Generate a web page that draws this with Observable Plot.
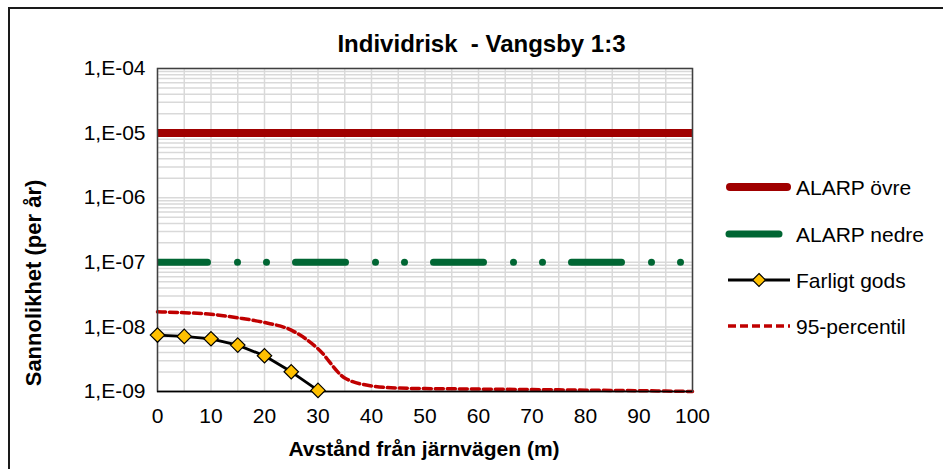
<!DOCTYPE html>
<html>
<head>
<meta charset="utf-8">
<script src="https://cdn.jsdelivr.net/npm/d3@7"></script>
<script src="https://cdn.jsdelivr.net/npm/@observablehq/plot@0.6"></script>
<style>
  html, body { margin: 0; padding: 0; background: #fff; }
  #wrap { position: relative; width: 943px; height: 469px; overflow: hidden; font-family: "Liberation Sans", Arial, sans-serif; }
  #border { position: absolute; left: 8px; top: 7px; width: 1000px; height: 600px; border: 2px solid #1a1a1a; box-sizing: border-box; }
  #chart { position: absolute; left: 0; top: 0; }
  .lbl { position: absolute; font-weight: bold; color: #000; white-space: nowrap; line-height: 1; }
  #overlay { position: absolute; left: 0; top: 0; }
</style>
</head>
<body>
<div id="wrap">
  <div id="border"></div>
  <div id="chart"></div>
  <div class="lbl" id="title" style="left:0; width:963px; text-align:center; top:32px; font-size:24px;">Individrisk&nbsp; - Vangsby 1:3</div>
  <div class="lbl" id="xlabel" style="left:124px; width:600px; text-align:center; top:438px; font-size:21px;">Avstånd från järnvägen (m)</div>
  <div class="lbl" id="ylabel" style="left:34px; top:283px; font-size:22px; transform: translate(-50%,-50%) rotate(-90deg);">Sannolikhet (per år)</div>
</div>
<script>
// ---- data ----
const xTicks = [0, 10, 20, 30, 40, 50, 60, 70, 80, 90, 100];
const xGrid = [0, 5, 10, 15, 20, 25, 30, 35, 40, 45, 50, 55, 60, 65, 70, 75, 80, 85, 90, 95, 100];
const yTicks = [1e-9, 1e-8, 1e-7, 1e-6, 1e-5, 1e-4];
const yTickLabels = ["1,E-09", "1,E-08", "1,E-07", "1,E-06", "1,E-05", "1,E-04"];

const limitX = [0, 100];
const alarpOvre = [1e-5, 1e-5];
const alarpNedre = [1e-7, 1e-7];

const farligtX = [0, 5, 10, 15, 20, 25, 30];
const farligtGods = [7.47e-9, 7.13e-9, 6.55e-9, 5.23e-9, 3.57e-9, 2.02e-9, 1.04e-9];

const percX = [0, 5, 10, 15, 20, 25, 30, 35, 40, 45, 50, 55, 60, 65, 70, 75, 80, 85, 90, 95, 100];
const percentil95 = [1.71e-8, 1.66e-8, 1.57e-8, 1.38e-8, 1.17e-8, 8.9e-9, 4.6e-9, 1.62e-9, 1.22e-9, 1.13e-9,
                     1.11e-9, 1.10e-9, 1.09e-9, 1.08e-9, 1.07e-9, 1.06e-9, 1.05e-9, 1.04e-9, 1.03e-9, 1.015e-9, 1.0e-9];

// ---- tables ----
const ovreData = limitX.map((x, i) => ({x, y: alarpOvre[i]}));
const nedreData = limitX.map((x, i) => ({x, y: alarpNedre[i]}));
const farligtData = farligtX.map((x, i) => ({x, y: farligtGods[i]}));
const percData = percX.map((x, i) => ({x, y: percentil95[i]}));
const yMinor = yTicks.slice(0, -1).flatMap(d => [1,2,3,4,5,6,7,8,9].map(k => k * d)).concat([1e-4]);
const yLabelMap = new Map(yTicks.map((t, i) => [t, yTickLabels[i]]));

const RED = "#a00000";
const GREEN = "#006633";
const DRED = "#c00000";
const GOLD = "#ffc000";

const chart = Plot.plot({
  width: 943,
  height: 469,
  marginLeft: 157,
  marginRight: 251,
  marginTop: 68,
  marginBottom: 78,
  style: { fontFamily: "'Liberation Sans', Arial, sans-serif", fontSize: "21px", color: "#000", background: "transparent" },
  x: { domain: [0, 100] },
  y: { type: "log", domain: [1e-9, 1e-4] },
  marks: [
    Plot.gridX({ ticks: xGrid, stroke: "#d9d9d9", strokeOpacity: 1, strokeWidth: 1.5 }),
    Plot.gridY({ ticks: yMinor, stroke: "#d9d9d9", strokeOpacity: 1, strokeWidth: 1.5 }),
    Plot.axisX({ ticks: xTicks, tickSize: 0, tickPadding: 17, label: null, fontSize: 21 }),
    Plot.axisY({ ticks: yTicks, tickSize: 0, tickPadding: 12, label: null, fontSize: 21, tickFormat: d => yLabelMap.get(d) }),
    Plot.line(ovreData, { x: "x", y: "y", stroke: RED, strokeWidth: 8, clip: "frame" }),
    Plot.line(nedreData, { x: "x", y: "y", stroke: GREEN, strokeWidth: 7, strokeLinecap: "round", strokeDasharray: "50,30,0,29,0,29", clip: "frame" }),
    Plot.line(percData, { x: "x", y: "y", stroke: DRED, strokeWidth: 3.5, strokeDasharray: "8,4", curve: "monotone-x" }),
    Plot.frame({ stroke: "#404040", strokeWidth: 1.5 }),
    Plot.ruleY([1e-9], { stroke: "#000", strokeWidth: 1.5 }),
    Plot.line(farligtData, { x: "x", y: "y", stroke: "#000", strokeWidth: 2.8 }),
    Plot.dot(farligtData, { x: "x", y: "y", symbol: "diamond2", r: 6.5, fill: GOLD, stroke: "#000", strokeWidth: 1.2 })
  ]
});
document.getElementById("chart").appendChild(chart);

// ---- legend ----
const ns = "http://www.w3.org/2000/svg";
const leg = document.createElementNS(ns, "svg");
leg.setAttribute("id", "overlay");
leg.setAttribute("width", 943);
leg.setAttribute("height", 469);
leg.style.fontFamily = "'Liberation Sans', Arial, sans-serif";
leg.style.fontSize = "21px";
const items = [
  { label: "ALARP övre", y: 187, stroke: RED, w: 8, cap: "round", x1: 730, x2: 787 },
  { label: "ALARP nedre", y: 234, stroke: GREEN, w: 7, cap: "round", x1: 729, x2: 779 },
  { label: "Farligt gods", y: 280, stroke: "#000", w: 2.8, cap: "butt", x1: 728, x2: 790, marker: true },
  { label: "95-percentil", y: 326, stroke: DRED, w: 3.5, cap: "butt", x1: 728, x2: 790, dash: "8,4" }
];
for (const it of items) {
  const l = document.createElementNS(ns, "line");
  l.setAttribute("x1", it.x1); l.setAttribute("x2", it.x2);
  l.setAttribute("y1", it.y); l.setAttribute("y2", it.y);
  l.setAttribute("stroke", it.stroke); l.setAttribute("stroke-width", it.w);
  l.setAttribute("stroke-linecap", it.cap);
  if (it.dash) l.setAttribute("stroke-dasharray", it.dash);
  leg.appendChild(l);
  if (it.marker) {
    const p = document.createElementNS(ns, "path");
    const cx = 759, cy = it.y, r = 6.5;
    p.setAttribute("d", `M${cx},${cy - r}L${cx + r},${cy}L${cx},${cy + r}L${cx - r},${cy}Z`);
    p.setAttribute("fill", GOLD); p.setAttribute("stroke", "#000"); p.setAttribute("stroke-width", 1.2);
    leg.appendChild(p);
  }
  const t = document.createElementNS(ns, "text");
  t.setAttribute("x", 796); t.setAttribute("y", it.y + 7.5);
  t.setAttribute("fill", "#000");
  t.textContent = it.label;
  leg.appendChild(t);
}
document.getElementById("wrap").appendChild(leg);
</script>
</body>
</html>
